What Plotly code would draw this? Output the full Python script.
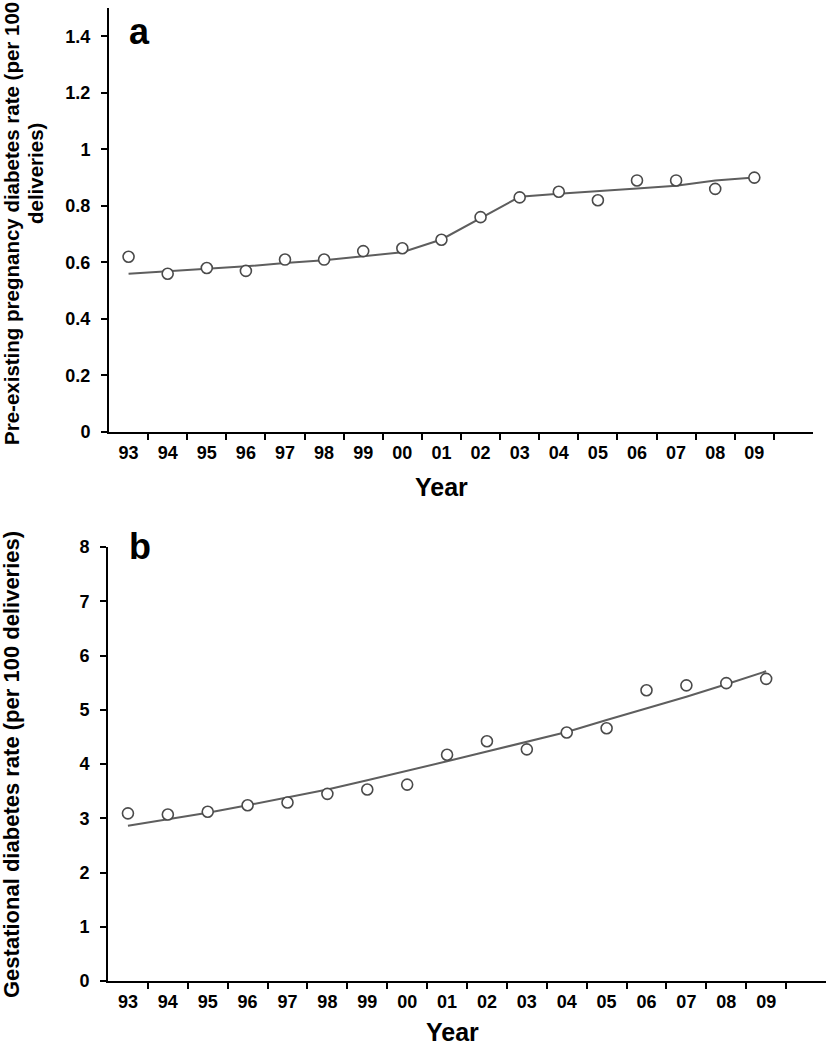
import plotly.graph_objects as go

years = ["93", "94", "95", "96", "97", "98", "99", "00", "01", "02", "03", "04", "05", "06", "07", "08", "09"]

pre_obs = [0.62, 0.56, 0.58, 0.57, 0.61, 0.61, 0.64, 0.65, 0.68, 0.76, 0.83, 0.85, 0.82, 0.89, 0.89, 0.86, 0.90]
pre_fit = [0.56, 0.568, 0.577, 0.586, 0.598, 0.608, 0.622, 0.636, 0.681, 0.758, 0.832, 0.843, 0.851, 0.861, 0.871, 0.89, 0.90]

ges_obs = [3.09, 3.07, 3.12, 3.24, 3.29, 3.45, 3.53, 3.62, 4.17, 4.42, 4.27, 4.58, 4.66, 5.36, 5.45, 5.49, 5.57]
ges_fit = [2.86, 2.98, 3.10, 3.24, 3.38, 3.53, 3.70, 3.87, 4.05, 4.23, 4.41, 4.59, 4.81, 5.02, 5.24, 5.47, 5.71]

pre_yticks = [0, 0.2, 0.4, 0.6, 0.8, 1.0, 1.2, 1.4]
pre_yticktext = ["0", "0.2", "0.4", "0.6", "0.8", "1", "1.2", "1.4"]
ges_yticks = [0, 1, 2, 3, 4, 5, 6, 7, 8]

W, H = 826, 1050
FONT = "Liberation Sans, Arial, sans-serif"
LINE_C = "#5e5e5e"
MARK_C = "#4a4a4a"

xpos = list(range(len(years)))
minor_ticks = [i + 0.5 for i in xpos]

fig = go.Figure()

for obs, fit, xa, ya in [(pre_obs, pre_fit, "x", "y"), (ges_obs, ges_fit, "x2", "y2")]:
    fig.add_trace(go.Scatter(x=xpos, y=fit, mode="lines", xaxis=xa, yaxis=ya,
                             line=dict(color=LINE_C, width=2), showlegend=False, hoverinfo="skip"))
    fig.add_trace(go.Scatter(x=xpos, y=obs, mode="markers", xaxis=xa, yaxis=ya,
                             marker=dict(symbol="circle", size=11, color="white",
                                         line=dict(color=MARK_C, width=1.6)),
                             showlegend=False))

tickfont = dict(family=FONT, size=18, color="black", weight="bold")

def xaxis_cfg(domain, anchor):
    return dict(domain=domain, anchor=anchor, range=[-0.5, len(years) + 0.5],
                tickmode="array", tickvals=xpos, ticktext=years, ticks="",
                ticklabelstandoff=3,
                minor=dict(tickmode="array", tickvals=minor_ticks, ticks="outside",
                           ticklen=6, tickwidth=2, tickcolor="black"),
                showline=True, linecolor="black", linewidth=2, showgrid=False,
                zeroline=False, tickfont=tickfont, automargin=False, fixedrange=True)

def yaxis_cfg(domain, anchor, rng, tv, tt):
    return dict(domain=domain, anchor=anchor, range=rng, tickmode="array",
                tickvals=tv, ticktext=tt, ticks="outside", ticklen=6, tickwidth=2,
                tickcolor="black", ticklabelstandoff=7,
                showline=True, linecolor="black", linewidth=2, showgrid=False,
                zeroline=False, tickfont=tickfont, automargin=False, fixedrange=True)

fig.update_layout(
    width=W, height=H,
    margin=dict(l=0, r=0, t=0, b=0),
    paper_bgcolor="white", plot_bgcolor="white",
    xaxis=xaxis_cfg([109 / W, 813 / W], "y"),
    yaxis=yaxis_cfg([1 - 432 / H, 1 - 8 / H], "x", [0, 1.5], pre_yticks, pre_yticktext),
    xaxis2=xaxis_cfg([108 / W, 1.0], "y2"),
    yaxis2=yaxis_cfg([1 - 981 / H, 1 - 547 / H], "x2", [0, 8], ges_yticks, [str(v) for v in ges_yticks]),
)

def ann(text, x, y, size, angle=0, xanchor="center", yanchor="middle"):
    fig.add_annotation(text=text, x=x / W, y=1 - y / H, xref="paper", yref="paper",
                       showarrow=False, textangle=angle, xanchor=xanchor, yanchor=yanchor,
                       font=dict(family=FONT, size=size, color="black", weight="bold"))

# Panel letters
ann("a", 139, 32, 36)
ann("b", 140, 546, 36)
# X titles
ann("Year", 441, 487, 25)
ann("Year", 452, 1048, 25, yanchor="bottom")
# Y titles
ann("Pre-existing pregnancy diabetes rate (per 100", 11, 224, 20.5, angle=-90)
ann("deliveries)", 35, 174, 20.5, angle=-90)
ann("Gestational diabetes rate (per 100 deliveries)", 11, 765, 22, angle=-90)

fig.write_html("out.html", config={"displayModeBar": False},
               post_script="document.body.style.margin='0';document.body.style.overflow='hidden';")
